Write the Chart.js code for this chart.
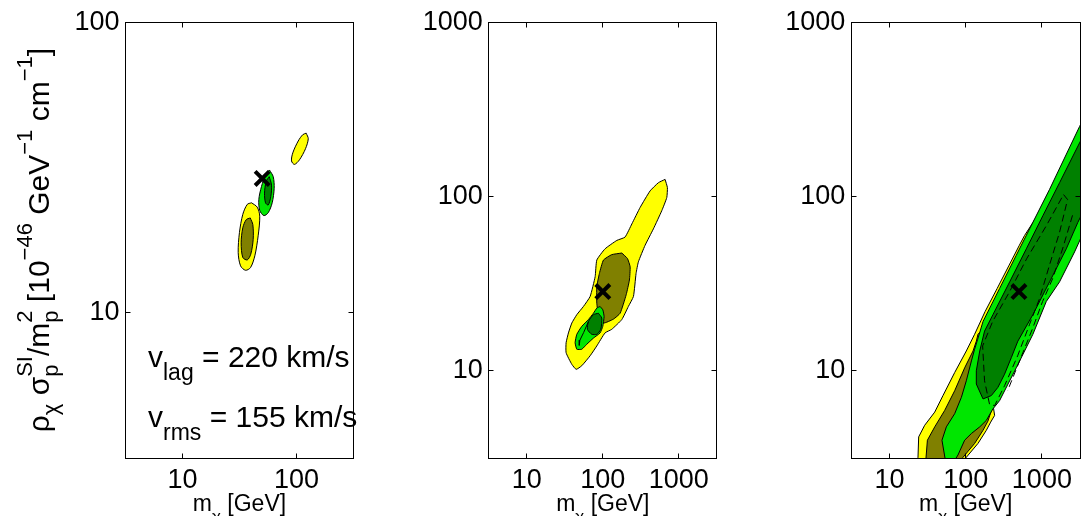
<!DOCTYPE html>
<html>
<head>
<meta charset="utf-8">
<script src="https://cdn.jsdelivr.net/npm/chart.js@4/dist/chart.umd.min.js"></script>
<style>
  body { margin: 0; background: #fff; width: 1081px; height: 516px; overflow: hidden; }
  canvas { position: absolute; top: 0; }
</style>
</head>
<body>
<canvas id="panel1" width="360" height="516" style="left:0px"></canvas>
<canvas id="panel2" width="350" height="516" style="left:380px"></canvas>
<canvas id="panel3" width="321" height="516" style="left:760px"></canvas>
<script>
// contour outlines, [m_chi (GeV), rho*sigma/m_p^2]
var p1YellowLow = [[40.3,23.9],[45.2,23.1],[47.6,21.5],[46.1,18.4],[43.1,15.7],[39.5,14.3],[35.7,14.0],[32.3,14.5],[30.8,16.1],[31.6,18.9],[33.8,21.8],[37.0,23.6]];
var p1YellowHigh = [[121.6,41.5],[126.8,39.7],[120,36.7],[106.2,33.6],[96,32.4],[90.4,33.3],[92.8,35.5],[103.5,39],[113.5,41]];
var p1Olive = [[39.3,21.2],[41.4,20.1],[41.7,17.9],[39.7,15.9],[37.0,15.2],[33.8,15.5],[32.7,17.4],[33.8,19.6],[36.2,20.9]];
var p1Green = [[57.9,31.0],[62.5,29.4],[63.7,26.8],[61.2,23.9],[56.5,22.1],[51.7,21.6],[47.6,22.5],[46.7,24.5],[49.3,27.2],[53.5,29.8]];
var p1Dark = [[57.6,29.4],[60.4,27.5],[59.5,25.1],[56.5,23.5],[53.5,23.9],[52.4,25.8],[54.2,28.3]];

var p2Yellow = [[660,125.4],[708,112.5],[695,98.7],[597,82.9],[463,65.2],[360,52.5],[294,42.2],[274,36.2],[253,26.7],[217,23.4],[178,19.7],[131,17.3],[107,16.5],[83.4,13.9],[68.1,12.2],[52.9,10.7],[44.6,10.2],[39.1,10.9],[32.9,12.7],[32.9,14.5],[35.3,16.5],[39.1,18.8],[45.5,21.0],[55.6,23.4],[68.1,26.7],[79.3,34.7],[83.4,43.2],[107,50.1],[153,56.0],[196,58.5],[241,69.6],[310,86.6],[419,107.7],[540,120.1]];
var p2Olive = [[178,47.4],[211,44.1],[229,39.5],[224,33.2],[203,27.3],[169,21.4],[138,19.8],[102,18.8],[87.5,21.0],[83.4,24.4],[83.4,30.4],[90.2,36.2],[102,43.2],[131,46.4]];
var p2Green = [[92.1,23.4],[100,22.4],[104,20.5],[100,18.0],[92.1,16.5],[75.2,15.4],[61.5,14.2],[52.9,13.3],[45.5,13.3],[43.2,14.5],[45.5,16.2],[52.9,18.0],[64.7,19.7],[75.2,21.4],[83.4,22.9]];
var p2Dark = [[87.5,21.4],[97,20.1],[94.1,17.3],[83.4,16.2],[71.6,16.2],[62.7,17.3],[64.7,19.2],[75.2,21.0]];
var p2Inner = [[64.7,19.2],[56,16.6],[50,15.0],[49,14.0]];

var p3Yellow = [[22.8,3.0],[23.7,3.19],[24.2,4.18],[29.0,4.87],[39.3,5.8],[50.4,7.21],[71.8,9.78],[102,13.0],[131,16.2],[180,21.9],[259,29.7],[372,40.4],[506,52.5],[593,59.8],[933,81.2],[690,16.9],[226,6.58],[240,5.55],[213,5.08],[187,4.56],[145,3.83],[102,3.19],[97,3.0]];
var p3Olive = [[29.9,3.0],[31.5,4.0],[39.3,4.77],[53.1,5.93],[71.8,7.69],[97,10.4],[125,13.0],[138,14.8],[145,16.2],[240,20.5],[324,16.9],[240,6.75],[196,5.15],[169,4.56],[131,3.83],[92.2,3.19],[86,3.0]];
var p3Green = [[54.7,3.0],[48.9,4.0],[55.8,4.77],[71.8,5.68],[87.9,7.05],[102,8.77],[119,11.4],[131,13.3],[144,15.2],[169,19.2],[279,29.7],[461,46.0],[762,71.1],[1262,110],[3119,252],[5700,428],[5700,94.9],[3214,57.2],[2685,48.1],[1706,32.4],[1143,25.0],[762,16.2],[461,10.4],[279,6.75],[228,6.05],[187,5.2],[153,4.77],[119,4.37],[97,4.0],[79.3,3.29],[69.6,3.0]];
var p3Dark = [[169,6.9],[138,8.4],[138,10],[153,13.0],[177,16.9],[228,21.0],[378,32.4],[625,50.1],[1030,77.6],[1706,120],[3119,203],[5700,342],[5700,126.6],[2965,71.1],[2089,50.1],[1262,32.4],[762,21.0],[484,14.8],[397,11.9],[324,9.57],[265,8.04],[217,7.21]];
var p3Dash1 = [[1923,102.6],[2173,96.1],[1706,62.4],[1262,40.6],[933,26.0],[690,18.5],[481,12.2],[324,8.22],[240,6.32],[206,6.41],[177,8.77],[167,13.9],[226,19.2],[378,28.5],[630,43.9],[1153,68.4]];
var p3Dash2 = [[2523,78],[1866,50.0],[1380,33.7],[1021,25.0],[755,17.5],[510,11.4],[355,7.69]];

// best-fit markers
var mark1 = [50, 29];
var mark2 = [100, 28.5];
var mark3 = [500, 28.5];

var ticks1X = [10, 100];
var ticks1Y = [10, 100];
var ticks23X = [10, 100, 1000];
var ticks23Y = [10, 100, 1000];

var YELLOW = "#ffff00", OLIVE = "#808000", GREEN = "#00e600", DARK = "#008000";
var FONT = "'Liberation Sans', Arial, Helvetica, sans-serif";

function richWidth(ctx, parts, st) {
  var w = 0;
  parts.forEach(function (p) {
    if (p.t !== undefined) {
      ctx.font = st.main + "px " + FONT;
      w += ctx.measureText(p.t).width;
    } else {
      ctx.font = st.small + "px " + FONT;
      var a = p.sub ? ctx.measureText(p.sub).width : 0;
      var b = p.sup ? ctx.measureText(p.sup).width : 0;
      w += Math.max(a, b);
    }
  });
  return w;
}

function drawRich(ctx, parts, x, y, st) {
  var cx = x;
  ctx.fillStyle = "#000";
  ctx.textBaseline = "alphabetic";
  ctx.textAlign = "left";
  parts.forEach(function (p) {
    if (p.t !== undefined) {
      ctx.font = st.main + "px " + FONT;
      ctx.fillText(p.t, cx, y);
      cx += ctx.measureText(p.t).width;
    } else {
      ctx.font = st.small + "px " + FONT;
      var a = 0, b = 0;
      if (p.sub) { ctx.fillText(p.sub, cx, y + st.subDy); a = ctx.measureText(p.sub).width; }
      if (p.sup) { ctx.fillText(p.sup, cx, y - st.supDy); b = ctx.measureText(p.sup).width; }
      cx += Math.max(a, b);
    }
  });
}

var xTitle = [{t: "m"}, {sub: "\u03c7"}, {t: " [GeV]"}];
var yTitle = [{t: "\u03c1"}, {sub: "\u03c7"}, {t: " \u03c3"}, {sub: "p", sup: "SI"}, {t: "/m"}, {sub: "p", sup: "2"},
  {t: " [10"}, {sup: "\u221246"}, {t: " GeV"}, {sup: "\u22121"}, {t: " cm"}, {sup: "\u22121"}, {t: "]"}];
var vLag = [{t: "v"}, {sub: "lag"}, {t: " = 220 km/s"}];
var vRms = [{t: "v"}, {sub: "rms"}, {t: " = 155 km/s"}];

function decor(o) {
  return {
    id: "decor",
    afterDraw: function (chart) {
      var ctx = chart.ctx, a = chart.chartArea;
      var xs = chart.scales.x, ys = chart.scales.y;
      var L = Math.floor(a.left) + 0.5, R = Math.floor(a.right) + 0.5;
      var T = Math.floor(a.top) + 0.5, B = Math.floor(a.bottom) + 0.5;
      ctx.save();
      ctx.strokeStyle = "#000";
      ctx.lineWidth = 1;
      ctx.beginPath();
      o.xTicks.forEach(function (v) {
        var px = Math.floor(xs.getPixelForValue(v)) + 0.5;
        ctx.moveTo(px, B); ctx.lineTo(px, B - 5);
        ctx.moveTo(px, T); ctx.lineTo(px, T + 5);
      });
      o.yTicks.forEach(function (v) {
        var py = Math.floor(ys.getPixelForValue(v)) + 0.5;
        ctx.moveTo(L, py); ctx.lineTo(L + 5, py);
        ctx.moveTo(R, py); ctx.lineTo(R - 5, py);
      });
      ctx.stroke();
      ctx.strokeRect(L, T, R - L, B - T);

      var xst = {main: 23, small: 17, subDy: 11, supDy: 0};
      var w = richWidth(ctx, xTitle, xst);
      drawRich(ctx, xTitle, (a.left + a.right) / 2 - w / 2, 511, xst);

      if (o.yTitle) {
        var yst = {main: 30, small: 22, subDy: 9, supDy: 17};
        var yw = richWidth(ctx, yTitle, yst);
        ctx.save();
        ctx.translate(49, (a.top + a.bottom) / 2);
        ctx.rotate(-Math.PI / 2);
        drawRich(ctx, yTitle, -yw / 2, 0, yst);
        ctx.restore();
      }
      if (o.notes) {
        var nst = {main: 30, small: 23, subDy: 13, supDy: 0};
        drawRich(ctx, vLag, 148, 367, nst);
        drawRich(ctx, vRms, 148, 427, nst);
      }
      ctx.restore();
    }
  };
}

function makePanel(id, o) {
  var n = o.layers.length;
  var datasets = o.layers.map(function (layer, i) {
    var pts = layer.open ? layer.pts : layer.pts.concat([layer.pts[0]]);
    return {
      data: pts.map(function (p) { return {x: p[0], y: p[1]}; }),
      showLine: true,
      fill: layer.color ? "shape" : false,
      backgroundColor: layer.color || "transparent",
      borderColor: "#000",
      borderWidth: 1,
      borderDash: layer.dash ? [7, 4] : [],
      pointRadius: 0,
      tension: layer.tension || 0,
      order: n - i + 1
    };
  });
  datasets.push({
    data: [{x: o.mark[0], y: o.mark[1]}],
    pointStyle: "crossRot",
    pointRadius: 10,
    borderWidth: 4,
    borderColor: "#000",
    backgroundColor: "#000",
    showLine: false,
    order: 0
  });

  new Chart(document.getElementById(id), {
    type: "scatter",
    data: {datasets: datasets},
    options: {
      responsive: false,
      animation: false,
      events: [],
      layout: {autoPadding: false, padding: {top: 17.5, right: o.padR, left: 0, bottom: 0}},
      plugins: {legend: {display: false}, tooltip: {enabled: false}},
      scales: {
        x: {
          type: "logarithmic",
          min: o.xMin, max: o.xMax,
          afterBuildTicks: function (s) { s.ticks = o.xTicks.map(function (v) { return {value: v}; }); },
          afterFit: function (s) { s.height = 58; },
          grid: {display: false, drawTicks: false},
          border: {display: false},
          ticks: {font: {family: FONT, size: 27}, color: "#000", padding: 6, maxRotation: 0, autoSkip: false,
            callback: function (v) { return String(v); }}
        },
        y: {
          type: "logarithmic",
          min: o.yMin, max: o.yMax,
          afterBuildTicks: function (s) { s.ticks = o.yTicks.map(function (v) { return {value: v}; }); },
          afterFit: function (s) { s.width = o.yW; },
          grid: {display: false, drawTicks: false},
          border: {display: false},
          ticks: {font: {family: FONT, size: 27}, color: "#000", padding: 6, autoSkip: false,
            callback: function (v) { return String(v); }}
        }
      }
    },
    plugins: [decor(o)]
  });
}

var r = Math.sqrt(10);

makePanel("panel1", {
  layers: [
    {pts: p1YellowLow, color: YELLOW, tension: 0.3},
    {pts: p1YellowHigh, color: YELLOW, tension: 0.3},
    {pts: p1Olive, color: OLIVE, tension: 0.3},
    {pts: p1Green, color: GREEN, tension: 0.3},
    {pts: p1Dark, color: DARK, tension: 0.3}
  ],
  mark: mark1,
  xMin: r, xMax: 100 * r, yMin: r, yMax: 100,
  xTicks: ticks1X, yTicks: ticks1Y,
  yW: 125.5, padR: 6.5, yTitle: true, notes: true
});

makePanel("panel2", {
  layers: [
    {pts: p2Yellow, color: YELLOW, tension: 0.15},
    {pts: p2Olive, color: OLIVE, tension: 0.15},
    {pts: p2Green, color: GREEN, tension: 0.15},
    {pts: p2Dark, color: DARK, tension: 0.2},
    {pts: p2Inner, open: true}
  ],
  mark: mark2,
  xMin: r, xMax: 1000 * r, yMin: r, yMax: 1000,
  xTicks: ticks23X, yTicks: ticks23Y,
  yW: 108.8, padR: 13.2
});

makePanel("panel3", {
  layers: [
    {pts: p3Yellow, color: YELLOW},
    {pts: p3Olive, color: OLIVE},
    {pts: p3Green, color: GREEN},
    {pts: p3Dark, color: DARK},
    {pts: p3Dash1, dash: true},
    {pts: p3Dash2, dash: true, open: true}
  ],
  mark: mark3,
  xMin: r, xMax: 1000 * r, yMin: r, yMax: 1000,
  xTicks: ticks23X, yTicks: ticks23Y,
  yW: 91.3, padR: 1
});
</script>
</body>
</html>
